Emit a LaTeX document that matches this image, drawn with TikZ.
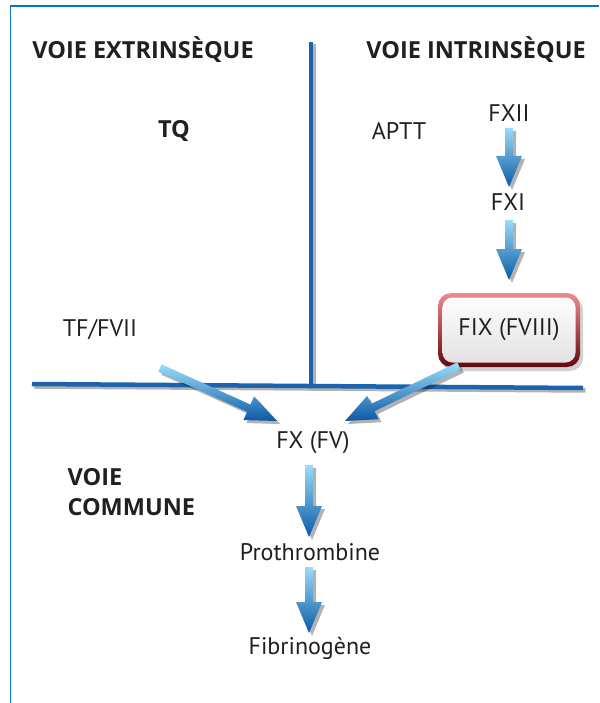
\documentclass[tikz,border=0pt]{standalone}
\usepackage{fontspec}
\setmainfont{PT Sans}
\newfontfamily\headfont{Open Sans}
\usetikzlibrary{calc,shadows}
\definecolor{txt}{HTML}{231F20}
\definecolor{lineblue}{HTML}{1B63AE}
\definecolor{frameblue}{HTML}{0A74C8}
\definecolor{arlight}{HTML}{9ADCF8}
\definecolor{ardark}{HTML}{0B5AA6}
\definecolor{redlight}{HTML}{F08A90}
\definecolor{reddark}{HTML}{62080E}
\newcommand\arrowpoly[2]{($(#1)!4pt!90:(#2)$) -- ($(hb)!4pt!90:(#2)$) -- ($(hb)!13pt!90:(#2)$) -- (#2) -- ($(hb)!13pt!-90:(#2)$) -- ($(hb)!4pt!-90:(#2)$) -- ($(#1)!4pt!-90:(#2)$) -- cycle}
\newcommand\bluearrow[2]{%
  \path ($(#2)!31pt!(#1)$) coordinate (hb);
  \fill[black, opacity=.3, transform canvas={xshift=3pt,yshift=-3pt}] \arrowpoly{#1}{#2};
  \shade[top color=arlight, bottom color=ardark] \arrowpoly{#1}{#2};
}
\begin{document}
\begin{tikzpicture}[x=1pt,y=-1pt,
  lab/.style={text=txt, font=\fontsize{24}{28}\selectfont},
  head/.style={text=txt, font=\headfont\fontsize{23.5}{30}\selectfont\bfseries},
  fixbox/.style={text=txt, font=\fontsize{24}{28}\selectfont, rounded corners=13pt,
    minimum width=142pt, minimum height=74pt, top color=redlight, bottom color=reddark,
    drop shadow={shadow xshift=3pt, shadow yshift=-4pt, opacity=.35},
    path picture={\shade[top color=white, bottom color=black!12, rounded corners=10pt]
      ($(path picture bounding box.south west)+(4.5,-4.5)$) rectangle
      ($(path picture bounding box.north east)+(-4.5,4.5)$);}},
  rule/.style={lineblue, line width=4.5pt},
  ruleshadow/.style={black, opacity=.3, line width=4.5pt}]
\useasboundingbox (0,0) rectangle (599,703);
\fill[white] (0,0) rectangle (599,703);
% frame
\draw[frameblue, line width=1.4pt] (10.5,703) -- (10.5,6) -- (599,6);
% headings and labels
\node[head] (ext) at (143,50) {VOIE EXTRINSÈQUE};
\node[head] (int) at (476,50) {VOIE INTRINSÈQUE};
\node[head] (tq) at (174,131) {TQ};
\node[lab] (aptt) at (399,131) {APTT};
\node[lab] (fxii) at (509,113) {FXII};
\node[lab] (fxi) at (508,202) {FXI};
\node[fixbox] (fix) at (509,330) {FIX (FVIII)};
\node[lab] (tf) at (100,330) {TF/FVII};
\node[lab] (fx) at (313,443) {FX (FV)};
\node[head, align=left, anchor=west] (com) at (64,492) {VOIE\\COMMUNE};
\node[lab] (pro) at (310,552) {Prothrombine};
\node[lab] (fib) at (310,648) {Fibrinogène};
% dividing lines
\coordinate (vt) at (311,42);
\coordinate (vb) at (311,384);
\coordinate (hl) at (32,384);
\coordinate (hr) at (583,388);
\draw[ruleshadow, transform canvas={xshift=2.5pt,yshift=-2.5pt}] (vt) -- (vb);
\draw[ruleshadow, transform canvas={xshift=2.5pt,yshift=-2.5pt}] (hl) -- (hr);
\draw[rule] (vt) -- (vb);
\draw[rule] (hl) -- (hr);
% arrows
\coordinate (a1s) at (509,128); \coordinate (a1t) at (509,187);
\coordinate (a2s) at (509,220); \coordinate (a2t) at (509,280);
\coordinate (a3s) at (160,368); \coordinate (a3t) at (277,421);
\coordinate (a4s) at (459,366); \coordinate (a4t) at (345,421);
\coordinate (a5s) at (309,465); \coordinate (a5t) at (309,537);
\coordinate (a6s) at (309,567); \coordinate (a6t) at (309,633);
\bluearrow{a1s}{a1t}
\bluearrow{a2s}{a2t}
\bluearrow{a3s}{a3t}
\bluearrow{a4s}{a4t}
\bluearrow{a5s}{a5t}
\bluearrow{a6s}{a6t}
\end{tikzpicture}
\end{document}
